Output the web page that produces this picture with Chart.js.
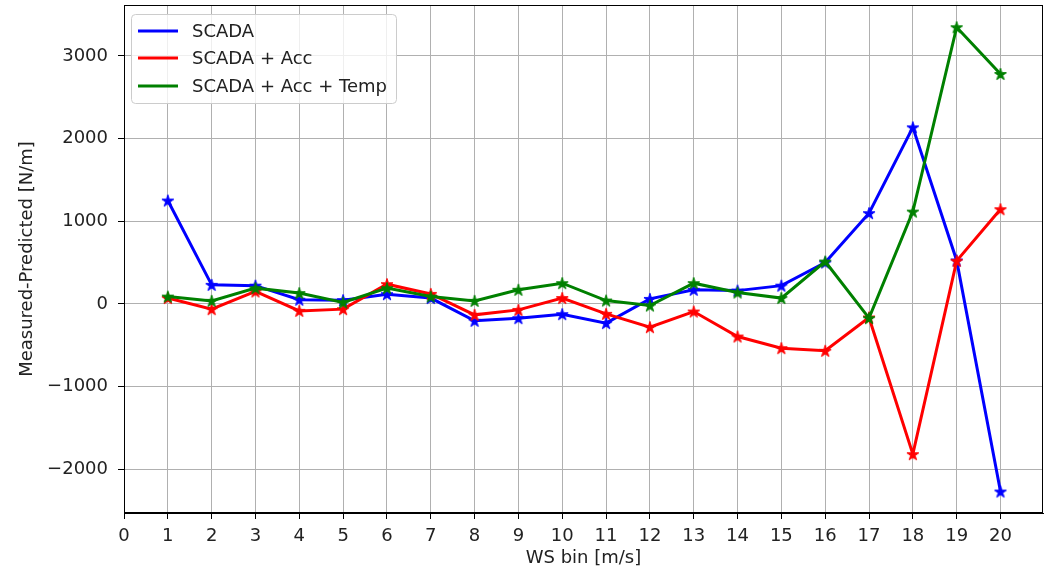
<!DOCTYPE html>
<html>
<head>
<meta charset="utf-8">
<script src="https://cdn.jsdelivr.net/npm/chart.js@4/dist/chart.umd.min.js"></script>
<style>
    html, body { margin: 0; padding: 0; background: #fff; }
    #wrap { width: 1058px; height: 573px; }
</style>
</head>
<body>
<div id="wrap"><canvas id="chart" width="1058" height="573"></canvas></div>
<script>
const bins = [1, 2, 3, 4, 5, 6, 7, 8, 9, 10, 11, 12, 13, 14, 15, 16, 17, 18, 19, 20];
const scada = [1250, 230, 220, 50, 45, 117, 70, -205, -173, -125, -233, 60, 170, 160, 220, 500, 1097, 2135, 525, -2270];
const scadaAcc = [70, -64, 150, -85, -64, 238, 120, -133, -73, 70, -121, -282, -93, -395, -536, -568, -165, -1818, 520, 1145];
const scadaAccTemp = [88, 36, 190, 130, 16, 190, 88, 36, 170, 250, 40, -20, 250, 137, 70, 512, -173, 1116, 3346, 2781];
const xTicks = [0, 1, 2, 3, 4, 5, 6, 7, 8, 9, 10, 11, 12, 13, 14, 15, 16, 17, 18, 19, 20];
const yTicks = [-2000, -1000, 0, 1000, 2000, 3000];
const labels = ["SCADA", "SCADA + Acc", "SCADA + Acc + Temp"];
const colors = ["#0000ff", "#ff0000", "#008000"];

const FONT = "'DejaVu Sans', sans-serif";

// filled star marker like matplotlib '*'
function starMarker(color) {
    const s = 14, c = document.createElement("canvas");
    c.width = s; c.height = s;
    const g = c.getContext("2d");
    const R = 6.3, r = R * 0.382;
    g.beginPath();
    for (let i = 0; i < 10; i++) {
        const a = -Math.PI / 2 + i * Math.PI / 5;
        const rad = i % 2 === 0 ? R : r;
        const x = s / 2 + rad * Math.cos(a), y = s / 2 + rad * Math.sin(a) + 0.6;
        i === 0 ? g.moveTo(x, y) : g.lineTo(x, y);
    }
    g.closePath();
    g.fillStyle = color;
    g.fill();
    g.strokeStyle = color;
    g.lineWidth = 1;
    g.stroke();
    return c;
}

function series(vals) {
    return bins.map((b, i) => ({ x: b, y: vals[i] }));
}

const boxPlugin = {
    id: "box",
    afterDraw(chart) {
        const { ctx, chartArea: a } = chart;
        ctx.save();
        ctx.strokeStyle = "#000";
        ctx.lineWidth = 1;
        ctx.strokeRect(a.left + 0.5, a.top + 0.5, a.right - a.left - 1, a.bottom - a.top - 1);

        // legend, upper left
        const x = 131.5, y = 14.5, w = 265, h = 89, rr = 4;
        ctx.beginPath();
        ctx.moveTo(x + rr, y);
        ctx.arcTo(x + w, y, x + w, y + h, rr);
        ctx.arcTo(x + w, y + h, x, y + h, rr);
        ctx.arcTo(x, y + h, x, y, rr);
        ctx.arcTo(x, y, x + w, y, rr);
        ctx.closePath();
        ctx.fillStyle = "rgba(255,255,255,0.8)";
        ctx.fill();
        ctx.strokeStyle = "#cccccc";
        ctx.stroke();
        const rows = [31, 58, 86];
        ctx.font = "18px " + FONT;
        ctx.textBaseline = "middle";
        labels.forEach((t, i) => {
            ctx.strokeStyle = colors[i];
            ctx.lineWidth = 3;
            ctx.beginPath();
            ctx.moveTo(138, rows[i]);
            ctx.lineTo(178, rows[i]);
            ctx.stroke();
            ctx.fillStyle = "#222";
            ctx.fillText(t, 192, rows[i] + 1);
        });
        ctx.restore();
    }
};

const data = [scada, scadaAcc, scadaAccTemp];

new Chart(document.getElementById("chart").getContext("2d"), {
    type: "line",
    data: {
        datasets: data.map((vals, i) => ({
            label: labels[i],
            data: series(vals),
            borderColor: colors[i],
            backgroundColor: colors[i],
            borderWidth: 3,
            tension: 0,
            pointStyle: starMarker(colors[i]),
            pointRadius: 7,
            pointHoverRadius: 7,
            order: 2 - i,
        })),
    },
    options: {
        responsive: false,
        animation: false,
        layout: { autoPadding: false, padding: { left: 0, top: 5, right: 15, bottom: 0 } },
        plugins: {
            legend: { display: false },
            tooltip: { enabled: false },
        },
        scales: {
            x: {
                type: "linear",
                min: 0,
                max: 20.97,
                afterBuildTicks: (s) => { s.ticks = xTicks.map((v) => ({ value: v })); },
                afterFit: (s) => { s.height = 60; s.paddingLeft = 0; s.paddingRight = 0; },
                ticks: {
                    color: "#222",
                    padding: 7,
                    font: { family: FONT, size: 18 },
                },
                grid: { color: "#b0b0b0", lineWidth: 1, tickLength: 6, tickColor: "#000" },
                border: { color: "#000", width: 1 },
                title: {
                    display: true,
                    text: "WS bin [m/s]",
                    color: "#222",
                    font: { family: FONT, size: 18 },
                    padding: { top: 0, bottom: 4 },
                },
            },
            y: {
                min: -2530,
                max: 3615,
                afterBuildTicks: (s) => { s.ticks = yTicks.map((v) => ({ value: v })); },
                afterFit: (s) => { s.width = 124; s.paddingTop = 0; s.paddingBottom = 0; },
                ticks: {
                    color: "#222",
                    padding: 10,
                    font: { family: FONT, size: 18 },
                    callback: (v) => (v < 0 ? "\u2212" + Math.abs(v) : String(v)),
                },
                grid: { color: "#b0b0b0", lineWidth: 1, tickLength: 6, tickColor: "#000" },
                border: { color: "#000", width: 1 },
                title: {
                    display: true,
                    text: "Measured-Predicted [N/m]",
                    color: "#222",
                    font: { family: FONT, size: 18 },
                    padding: { top: 17, bottom: 0 },
                },
            },
        },
    },
    plugins: [boxPlugin],
});
</script>
</body>
</html>
